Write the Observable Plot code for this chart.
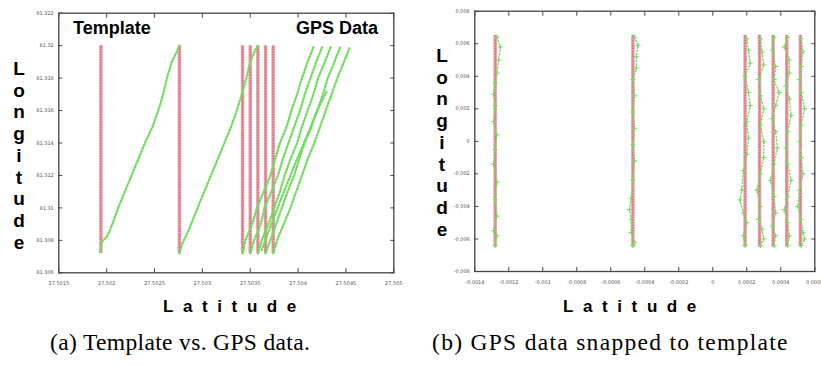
<!DOCTYPE html>
<html><head><meta charset="utf-8">
<script src="https://cdn.jsdelivr.net/npm/d3@7"></script>
<script src="https://cdn.jsdelivr.net/npm/@observablehq/plot@0.6"></script>
<style>
html,body{margin:0;padding:0;background:#fff;}
#wrap{position:relative;width:821px;height:365px;overflow:hidden;background:#fff;}
.panel{position:absolute;top:0;}
.lbl{position:absolute;font-family:"Liberation Sans",Arial,sans-serif;font-weight:bold;color:#000;white-space:nowrap;}
.vert{text-align:center;line-height:21.7px;font-size:19px;width:20px;}
.lat{font-size:17px;letter-spacing:9.6px;}
.cap{position:absolute;font-family:"Liberation Serif","DejaVu Serif",serif;font-size:23.5px;letter-spacing:0.35px;color:#000;white-space:nowrap;}
</style></head><body><div id="wrap"></div>
<script>
// ---------- Panel (a): Template vs. GPS data ----------
const xTicksA = [27.5015, 27.502, 27.5025, 27.503, 27.5035, 27.504, 27.5045, 27.505];
const yTicksA = [81.306, 81.308, 81.31, 81.312, 81.314, 81.316, 81.318, 81.32, 81.322];
const templateLatA = [27.50194, 27.50276, 27.50342, 27.50350, 27.50358, 27.50366, 27.50374];
const templateLonRangeA = [81.3072, 81.3200];
const gpsA1 = [[27.50193,81.3073],[27.50195,81.3079],[27.50201,81.3083],[27.50206,81.3090],[27.50212,81.3100],[27.50219,81.3110],[27.50226,81.3120],[27.50233,81.3130],[27.50240,81.3140],[27.50248,81.3150],[27.50254,81.3160],[27.50259,81.3170],[27.50263,81.3180],[27.50268,81.3190],[27.50274,81.3197],[27.50276,81.3200]];
const gpsA2 = [[27.50276,81.3072],[27.50279,81.3078],[27.50284,81.3084],[27.50289,81.3091],[27.50295,81.3100],[27.50302,81.3110],[27.50309,81.3120],[27.50316,81.3130],[27.50323,81.3140],[27.50330,81.3150],[27.50336,81.3160],[27.50341,81.3170],[27.50346,81.3180],[27.50350,81.3190],[27.50355,81.3197],[27.50358,81.3200]];
const gpsA3 = [[27.50342,81.3072],[27.50345,81.3080],[27.50352,81.3090],[27.50357,81.3100],[27.50364,81.3110],[27.50371,81.3120],[27.50376,81.3130],[27.50381,81.3140],[27.50388,81.3150],[27.50393,81.3160],[27.50399,81.3170],[27.50404,81.3180],[27.50410,81.3190],[27.50416,81.3199]];
const gpsA4 = [[27.50350,81.3072],[27.50354,81.3080],[27.50361,81.3090],[27.50365,81.3100],[27.50372,81.3110],[27.50379,81.3120],[27.50384,81.3130],[27.50390,81.3140],[27.50396,81.3150],[27.50402,81.3160],[27.50407,81.3170],[27.50413,81.3180],[27.50419,81.3190],[27.50425,81.3199]];
const gpsA5 = [[27.50358,81.3072],[27.50362,81.3080],[27.50369,81.3090],[27.50375,81.3100],[27.50381,81.3110],[27.50386,81.3120],[27.50392,81.3130],[27.50399,81.3140],[27.50404,81.3150],[27.50410,81.3160],[27.50416,81.3170],[27.50421,81.3180],[27.50428,81.3190],[27.50434,81.3199]];
const gpsA6 = [[27.50366,81.3072],[27.50371,81.3080],[27.50377,81.3090],[27.50383,81.3100],[27.50389,81.3110],[27.50396,81.3120],[27.50401,81.3130],[27.50407,81.3140],[27.50414,81.3150],[27.50420,81.3160],[27.50426,81.3170],[27.50431,81.3180],[27.50438,81.3190],[27.50444,81.3199]];
const gpsA7 = [[27.50374,81.3072],[27.50378,81.3080],[27.50385,81.3090],[27.50392,81.3100],[27.50398,81.3110],[27.50404,81.3120],[27.50410,81.3130],[27.50417,81.3140],[27.50423,81.3150],[27.50429,81.3160],[27.50435,81.3170],[27.50441,81.3180],[27.50448,81.3190],[27.50454,81.3199]];
const gpsA8 = [[27.50362,81.3074],[27.50372,81.3090],[27.50384,81.3108],[27.50396,81.3126],[27.50409,81.3144],[27.50420,81.3160],[27.50430,81.3172]];
const gpsTracksA = [gpsA1, gpsA2, gpsA3, gpsA4, gpsA5, gpsA6, gpsA7, gpsA8];

// ---------- Panel (b): GPS data snapped to template ----------
const xTicksB = [-0.0014, -0.0012, -0.001, -0.0008, -0.0006, -0.0004, -0.0002, 0, 0.0002, 0.0004, 0.0006];
const yTicksB = [-0.008, -0.006, -0.004, -0.002, 0, 0.002, 0.004, 0.006, 0.008];
const templateLatB = [-0.00128, -0.00047, 0.00019, 0.000275, 0.000355, 0.000435, 0.000515];
const templateLonRangeB = [-0.0065, 0.0065];
const gpsB1 = [[-0.00127,0.0064],[-0.00125,0.0058],[-0.00126,0.0050],[-0.00127,0.0042],[-0.00128,0.0036],[-0.00129,0.0029],[-0.00128,0.0022],[-0.00129,0.0012],[-0.00127,0.0004],[-0.00128,-0.0005],[-0.00129,-0.0014],[-0.00127,-0.0025],[-0.00128,-0.0036],[-0.00127,-0.0046],[-0.00129,-0.0055],[-0.00127,-0.0058],[-0.00128,-0.0064]];
const gpsB2 = [[-0.00046,0.0064],[-0.00044,0.0059],[-0.00045,0.0052],[-0.00045,0.0045],[-0.00047,0.0038],[-0.00046,0.0028],[-0.00047,0.0018],[-0.00046,0.0008],[-0.00047,-0.0002],[-0.00046,-0.0012],[-0.00047,-0.0024],[-0.00048,-0.0035],[-0.00049,-0.0042],[-0.00048,-0.0048],[-0.00048,-0.0056],[-0.00046,-0.0062],[-0.00047,-0.0064]];
const gpsB3 = [[0.00020,0.0063],[0.00021,0.0056],[0.00022,0.0048],[0.00019,0.0040],[0.00021,0.0030],[0.00022,0.0022],[0.00020,0.0012],[0.00021,0.0002],[0.00020,-0.0008],[0.00018,-0.0018],[0.00017,-0.0030],[0.00016,-0.0036],[0.00018,-0.0044],[0.00020,-0.0050],[0.00018,-0.0058],[0.00019,-0.0064]];
const gpsB4 = [[0.00028,0.0063],[0.00029,0.0055],[0.00030,0.0047],[0.00027,0.0038],[0.00028,0.0028],[0.00030,0.0020],[0.00028,0.0010],[0.00030,0.0000],[0.00030,-0.0010],[0.00028,-0.0020],[0.00026,-0.0030],[0.00028,-0.0040],[0.00027,-0.0048],[0.00029,-0.0054],[0.00030,-0.0060],[0.00028,-0.0064]];
const gpsB5 = [[0.00036,0.0064],[0.00035,0.0056],[0.00037,0.0046],[0.00036,0.0038],[0.00039,0.0030],[0.00037,0.0022],[0.00035,0.0014],[0.00037,0.0006],[0.00038,-0.0004],[0.00036,-0.0014],[0.00034,-0.0024],[0.00036,-0.0034],[0.00037,-0.0044],[0.00035,-0.0052],[0.00037,-0.0058],[0.00036,-0.0064]];
const gpsB6 = [[0.00044,0.0064],[0.00042,0.0058],[0.00045,0.0050],[0.00045,0.0042],[0.00043,0.0034],[0.00045,0.0026],[0.00046,0.0016],[0.00044,0.0006],[0.00043,-0.0004],[0.00044,-0.0014],[0.00046,-0.0024],[0.00044,-0.0034],[0.00042,-0.0042],[0.00044,-0.0050],[0.00045,-0.0058],[0.00044,-0.0064]];
const gpsB7 = [[0.00052,0.0063],[0.00053,0.0055],[0.00052,0.0046],[0.00051,0.0038],[0.00052,0.0030],[0.00054,0.0020],[0.00052,0.0010],[0.00051,0.0000],[0.00052,-0.0010],[0.00053,-0.0020],[0.00051,-0.0030],[0.00050,-0.0040],[0.00052,-0.0048],[0.00053,-0.0056],[0.00054,-0.0060],[0.00052,-0.0064]];
const gpsTracksB = [gpsB1, gpsB2, gpsB3, gpsB4, gpsB5, gpsB6, gpsB7];

// ---------- Texts ----------
const titleTemplate = "Template";
const titleGPS = "GPS Data";
const yLabel = "Longitude";
const xLabel = "Latitude";
const captionA = "(a) Template vs. GPS data.";
const captionB = "(b) GPS data snapped to template";

const RED_LIGHT = "#eb9aa3", RED_DARK = "#d2566a", GREEN = "#72dc60";

function fmtDot(d) { return d3.format("~g")(d).replace("\u2212", "-"); }
function fmtComma(d) { return fmtDot(d).replace(".", ","); }
const noLabel = () => "";

function panel(o) {
  const {width, height, mL, mR, mT, mB, xDom, yDom, xT, yT, fmt, tLat, tRange, tracks, gw, dots} = o;
  const marks = [
    Plot.ruleX(tLat, {y1: tRange[0], y2: tRange[1], stroke: RED_LIGHT, strokeWidth: 3.4}),
    Plot.ruleX(tLat, {y1: tRange[0], y2: tRange[1], stroke: RED_DARK, strokeWidth: 1.3, strokeDasharray: "1,1.6"}),
    ...tracks.map(tr => Plot.line(tr, {x: d => d[0], y: d => d[1], stroke: GREEN, strokeWidth: gw, strokeDasharray: "1.2,2.2", curve: "linear"})),
    ...(dots ? tracks.map(tr => Plot.dot(tr, {x: d => d[0], y: d => d[1], symbol: "plus", r: 1.8, stroke: GREEN, strokeWidth: 1})) : []),
    Plot.axisX({anchor: "bottom", ticks: xT, tickFormat: fmt, tickSize: -4, tickPadding: 13, label: null, fill: "#555", stroke: "#444"}),
    Plot.axisX({anchor: "top", ticks: xT, tickFormat: noLabel, tickSize: -4, label: null, stroke: "#444"}),
    Plot.axisY({anchor: "left", ticks: yT, tickFormat: fmt, tickSize: -4, tickPadding: 9, label: null, fill: "#555", stroke: "#444"}),
    Plot.axisY({anchor: "right", ticks: yT, tickFormat: noLabel, tickSize: -4, label: null, stroke: "#444"}),
    Plot.frame({stroke: "#444", strokeWidth: 1.3})
  ];
  return Plot.plot({
    width, height, marginLeft: mL, marginRight: mR, marginTop: mT, marginBottom: mB,
    x: {domain: xDom}, y: {domain: yDom},
    style: {fontFamily: "'DejaVu Sans', sans-serif", fontSize: "5px", background: "transparent", color: "#555", overflow: "visible"},
    marks
  });
}

const wrap = document.getElementById("wrap");

const pa = panel({width: 410, height: 295, mL: 58.3, mR: 16.7, mT: 12.7, mB: 22.7,
  xDom: [xTicksA[0], xTicksA[xTicksA.length - 1]], yDom: [yTicksA[0], yTicksA[yTicksA.length - 1]],
  xT: xTicksA, yT: yTicksA, fmt: fmtDot, tLat: templateLatA, tRange: templateLonRangeA, tracks: gpsTracksA, gw: 2.3, dots: false});
pa.classList.add("panel"); pa.style.left = "0px";
wrap.appendChild(pa);

const pb = panel({width: 411, height: 295, mL: 64.3, mR: 6.7, mT: 10.7, mB: 24,
  xDom: [xTicksB[0], xTicksB[xTicksB.length - 1]], yDom: [yTicksB[0], yTicksB[yTicksB.length - 1]],
  xT: xTicksB, yT: yTicksB, fmt: fmtComma, tLat: templateLatB, tRange: templateLonRangeB, tracks: gpsTracksB, gw: 1.4, dots: true});
pb.classList.add("panel"); pb.style.left = "410px";
wrap.appendChild(pb);

function addText(cls, text, css) {
  const d = document.createElement("div");
  d.className = cls;
  d.textContent = text;
  Object.assign(d.style, css);
  wrap.appendChild(d);
  return d;
}
function addVertical(text, left, top) {
  const d = document.createElement("div");
  d.className = "lbl vert";
  d.style.left = left + "px"; d.style.top = top + "px";
  for (const ch of text) { const s = document.createElement("div"); s.textContent = ch; d.appendChild(s); }
  wrap.appendChild(d);
}
addText("lbl", titleTemplate, {left: "73px", top: "18px", fontSize: "18px"});
addText("lbl", titleGPS, {left: "296px", top: "18px", fontSize: "18px"});
addVertical(yLabel, 9, 58);
addVertical(yLabel, 432, 45);
addText("lbl lat", xLabel, {left: "163px", top: "297px"});
addText("lbl lat", xLabel, {left: "563px", top: "297px"});
addText("cap", captionA, {left: "50px", top: "329px"});
addText("cap", captionB, {left: "432px", top: "329px", letterSpacing: "1.3px"});
</script></body></html>
